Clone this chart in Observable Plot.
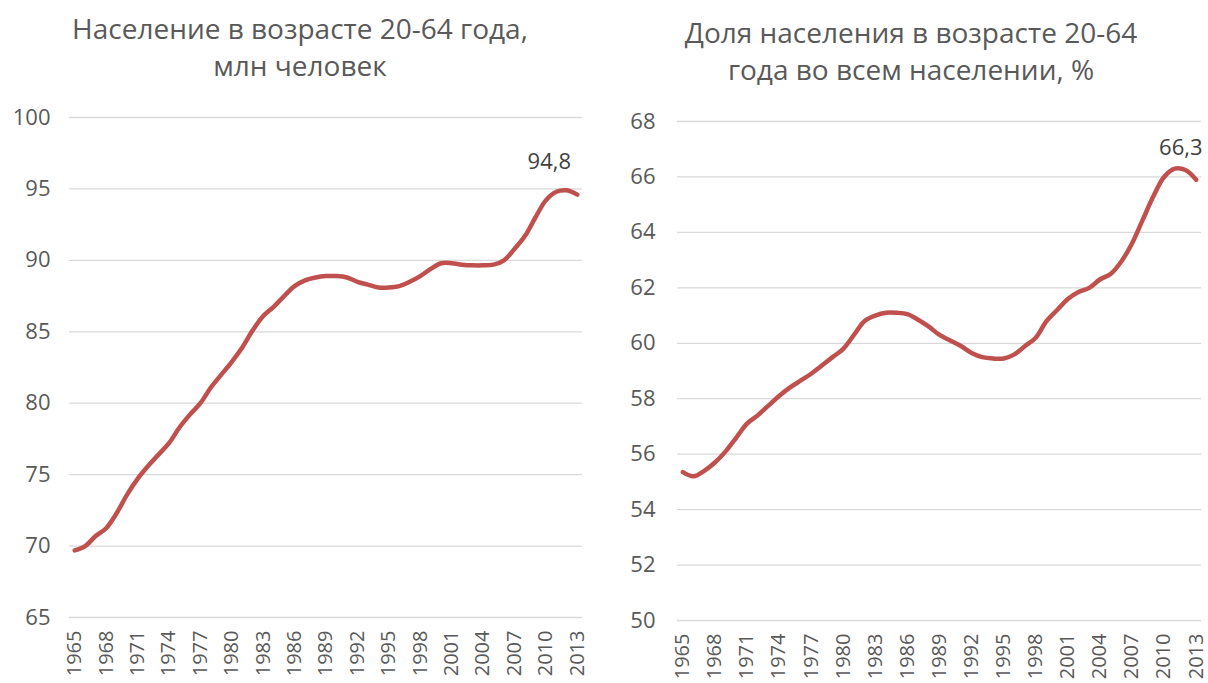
<!DOCTYPE html>
<html><head><meta charset="utf-8">
<script src="https://cdn.jsdelivr.net/npm/d3@7"></script>
<script src="https://cdn.jsdelivr.net/npm/@observablehq/plot@0.6"></script>
<style>
body{margin:0;background:#fff;}
#root{position:relative;width:1208px;height:683px;font-family:"Open Sans",sans-serif;color:#595959;overflow:hidden;}
.title{position:absolute;text-align:center;font-size:28px;line-height:37px;color:#595959;white-space:nowrap;}
.chart{position:absolute;top:100px;}
</style></head>
<body><div id="root">
<div class="title" style="left:0;top:10px;width:600px">Население в возрасте 20-64 года,<br>млн человек</div>
<div class="title" style="left:604px;top:14px;width:614px">Доля населения в возрасте 20-64<br>года во всем населении, %</div>
<div class="chart" id="c1" style="left:0"></div>
<div class="chart" id="c2" style="left:604px"></div>
</div>
<script>
const years = [1965,1966,1967,1968,1969,1970,1971,1972,1973,1974,1975,1976,1977,1978,1979,1980,1981,1982,1983,1984,1985,1986,1987,1988,1989,1990,1991,1992,1993,1994,1995,1996,1997,1998,1999,2000,2001,2002,2003,2004,2005,2006,2007,2008,2009,2010,2011,2012,2013];
const popMillions = [69.7,70.0,70.7,71.25,72.3,73.6,74.7,75.6,76.4,77.2,78.3,79.2,80.0,81.1,82.0,82.9,83.9,85.1,86.1,86.75,87.5,88.2,88.6,88.8,88.9,88.9,88.8,88.5,88.3,88.1,88.1,88.2,88.5,88.9,89.4,89.8,89.8,89.7,89.65,89.65,89.7,90.0,90.8,91.7,93.0,94.2,94.8,94.9,94.6];
const sharePercent = [55.35,55.2,55.4,55.7,56.1,56.6,57.1,57.4,57.75,58.1,58.4,58.65,58.9,59.2,59.5,59.8,60.3,60.8,61.0,61.1,61.1,61.05,60.85,60.6,60.3,60.1,59.9,59.65,59.5,59.45,59.45,59.6,59.9,60.2,60.8,61.2,61.6,61.85,62.0,62.3,62.5,62.95,63.6,64.45,65.3,66.0,66.3,66.25,65.9];
const xTickYears = [1965,1968,1971,1974,1977,1980,1983,1986,1989,1992,1995,1998,2001,2004,2007,2010,2013];
const popTicks = [65,70,75,80,85,90,95,100];
const shareTicks = [50,52,54,56,58,60,62,64,66,68];
const popLabel = {year:2011, v:94.8, text:"94,8"};
const shareLabel = {year:2011, v:66.3, text:"66,3"};

function chart(values, yDomain, yTicks, m, yPad, lab, ldx, ldy) {
  const data = years.map((y,i)=>({year:y, v:values[i]}));
  return Plot.plot({
    width:604, height:583,
    marginLeft:m[0], marginRight:m[1], marginTop:m[2], marginBottom:m[3],
    style:{fontFamily:'"Open Sans", sans-serif', fontSize:"22px", color:"#595959", background:"#fff", overflow:"visible"},
    x:{type:"linear", domain:[1964.5,2013.5]},
    y:{domain:yDomain},
    marks:[
      Plot.ruleY(yTicks,{stroke:"#d9d9d9", strokeWidth:1.3}),
      Plot.axisY({ticks:yTicks, tickSize:0, tickPadding:yPad, tickFormat:d=>String(d), label:null, fontSize:22}),
      Plot.axisX({ticks:xTickYears, tickFormat:d=>String(d), tickRotate:-90, tickSize:0, tickPadding:13, label:null, fontSize:20}),
      Plot.line(data,{x:"year", y:"v", stroke:"#c0504d", strokeWidth:4.5, curve:"catmull-rom", strokeLinecap:"round"}),
      Plot.text([lab],{x:"year", y:"v", text:"text", dx:ldx, dy:ldy, fill:"#404040", fontSize:22})
    ]
  });
}
document.getElementById("c1").append(chart(popMillions,[65,100],popTicks,[69,22,17,66],19,popLabel,-7,-30));
document.getElementById("c2").append(chart(sharePercent,[50,68],shareTicks,[73,7,21,63],22,shareLabel,6,-21));
</script>
</body></html>
